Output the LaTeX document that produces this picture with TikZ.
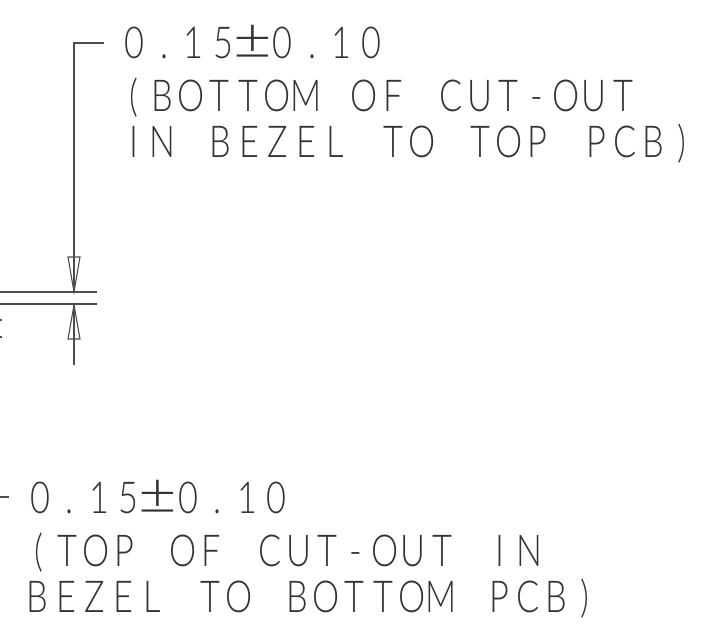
\documentclass[tikz,border=0pt]{standalone}
\usepackage{graphicx}
\usepackage{fontspec}
\setmainfont{Lato}[UprightFont=* Light,FakeStretch=0.78]
\newlength{\monopitch}
\setlength{\monopitch}{28.7pt}
\makeatletter
\newcommand{\monocell}[1]{\makebox[\monopitch][c]{#1}}
\newcommand{\monoword}[1]{\@tfor\@mc:=#1\do{\monocell{\@mc}}}
\newcommand{\monopm}{\monocell{\raisebox{-1pt}{\scalebox{1.95}[1.35]{±}}}}
\newcommand{\monogap}{\hspace{10.1pt} \hspace{10.1pt}}
\makeatother
\tikzset{
  cadtext/.style={inner sep=0pt,anchor=base west,font=\fontsize{44}{44}\selectfont,text=black!80},
  cadline/.style={draw=black!70,line width=1.2pt},
  hollowtip/.style={draw=black!70,line width=1.1pt,fill=none,line join=miter}
}
\begin{document}
\begin{tikzpicture}[x=1pt,y=-1pt]
\useasboundingbox (0,0) rectangle (720,636);
\coordinate (ledgerA) at (104,43);
\coordinate (corner) at (74,43);
\coordinate (tipT) at (74,292);
\coordinate (tipB) at (74,305);
\coordinate (tail) at (74,365);
\coordinate (lTs) at (0,292);
\coordinate (lTe) at (97,292);
\coordinate (lBs) at (0,304);
\coordinate (lBe) at (97,304);
\draw[cadline] (ledgerA) -- (corner) -- (tipT);
\draw[cadline] (tipB) -- (tail);
\draw[cadline] (lTs) -- (lTe);
\draw[cadline] (lBs) -- (lBe);
\draw[hollowtip] (tipT) -- ++(-6,-35) -- ++(12,0) -- cycle;
\draw[hollowtip] (tipB) -- ++(-6,34) -- ++(12,0) -- cycle;
\coordinate (t1a) at (0,320);\coordinate (t1b) at (2,320);
\coordinate (t2a) at (0,337);\coordinate (t2b) at (2,337);
\coordinate (d1a) at (0,497);\coordinate (d1b) at (9,497);
\draw[cadline] (t1a) -- (t1b);
\draw[cadline] (t2a) -- (t2b);
\draw[cadline] (d1a) -- (d1b);
\node[cadtext] (a1) at (119.5,59) {\setlength{\monopitch}{29.6pt}\monoword{0.15}\monopm\monoword{0.10}};
\node[cadtext] (a2) at (119,112) {\monoword{(BOTTOM}\monogap\monoword{OF}\monogap\monoword{CUT-OUT}};
\node[cadtext] (a3) at (119,158) {\monoword{IN}\monogap\monoword{BEZEL}\monogap\monoword{TO}\monogap\monoword{TOP}\monogap\monoword{PCB)}};
\node[cadtext] (b1) at (25,513) {\setlength{\monopitch}{29.6pt}\monoword{0.15}\monopm\monoword{0.10}};
\node[cadtext] (b2) at (24,566) {\monoword{(TOP}\monogap\monoword{OF}\monogap\monoword{CUT-OUT}\monogap\monoword{IN}};
\node[cadtext] (b3) at (23,612) {\monoword{BEZEL}\monogap\monoword{TO}\monogap\monoword{BOTTOM}\monogap\monoword{PCB)}};
\end{tikzpicture}
\end{document}
